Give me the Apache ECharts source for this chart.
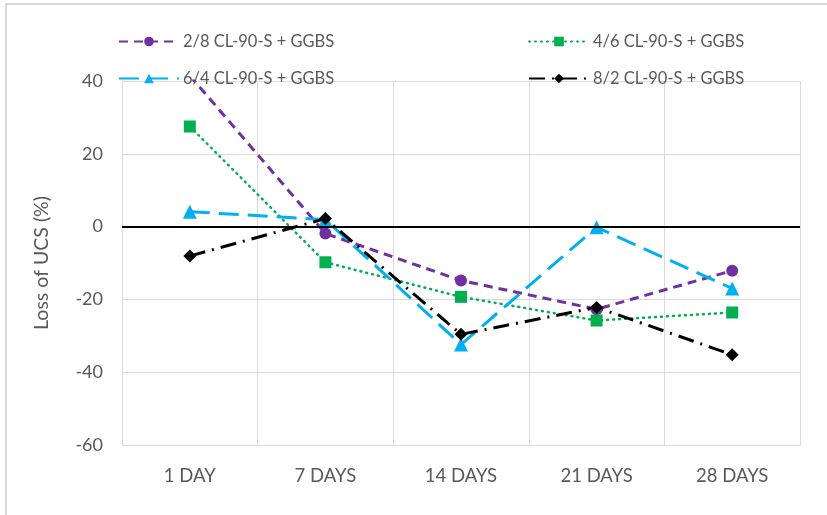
<!DOCTYPE html>
<html>
<head>
<meta charset="utf-8">
<script src="https://cdn.jsdelivr.net/npm/echarts@6/dist/echarts.min.js"></script>
<style>
  html, body { margin: 0; padding: 0; background: #fff; }
  #chart { width: 827px; height: 515px; }
</style>
</head>
<body>
<div id="chart"></div>
<script>
const categories = ['1 DAY', '7 DAYS', '14 DAYS', '21 DAYS', '28 DAYS']
const seriesNames = ['2/8 CL-90-S + GGBS', '4/6 CL-90-S + GGBS', '6/4 CL-90-S + GGBS', '8/2 CL-90-S + GGBS']
const loss28 = [41.5, -1.9, -14.8, -22.7, -12.1]
const loss46 = [27.5, -9.8, -19.3, -25.8, -23.6]
const loss64 = [4.1, 1.9, -32.4, -0.2, -17.0]
const loss82 = [-8.1, 2.2, -29.6, -22.2, -35.2]

const fontFam = "Lato, 'Open Sans', sans-serif"
const grey = '#595959'

const myChart = echarts.init(document.getElementById('chart'))

const legendItem = (name, left, top) => ({
  data: [name],
  left: left,
  top: top,
  itemWidth: 60,
  itemHeight: 12,
  itemGap: 0,
  selectedMode: false,
  textStyle: { color: grey, fontSize: 16.5, fontFamily: fontFam, padding: [0, 0, 0, -1] }
})

const option = {
  animation: false,
  graphic: [
    {
      type: 'rect',
      shape: { x: 6, y: 4, width: 900, height: 600 },
      style: { fill: 'none', stroke: '#d9d9d9', lineWidth: 2 },
      silent: true
    }
  ],
  legend: [
    legendItem(seriesNames[0], 113, 28),
    legendItem(seriesNames[1], 523, 28),
    legendItem(seriesNames[2], 113, 65),
    legendItem(seriesNames[3], 523, 65)
  ],
  grid: { left: 122, right: 27, top: 81, bottom: 70 },
  xAxis: {
    type: 'category',
    data: categories,
    axisLine: { show: false },
    axisTick: { show: false },
    splitLine: { show: true, lineStyle: { color: '#d9d9d9', width: 1 } },
    axisLabel: { color: grey, fontSize: 18.5, fontFamily: fontFam, margin: 22 }
  },
  yAxis: {
    type: 'value',
    min: -60,
    max: 40,
    interval: 20,
    name: 'Loss of UCS (%)',
    nameLocation: 'middle',
    nameGap: 70,
    nameTextStyle: { color: grey, fontSize: 19.5, fontFamily: fontFam },
    axisLine: { show: true, lineStyle: { color: '#d9d9d9' } },
    axisTick: { show: false },
    splitLine: { lineStyle: { color: '#d9d9d9', width: 1 } },
    axisLabel: { color: grey, fontSize: 18, fontFamily: fontFam, margin: 19 }
  },
  series: [
    {
      name: seriesNames[0],
      type: 'line',
      data: loss28,
      symbol: 'circle',
      symbolSize: 12,
      itemStyle: { color: '#7030a0' },
      lineStyle: { color: '#7030a0', width: 3, type: [9, 6] },
      markLine: {
        silent: true,
        symbol: 'none',
        label: { show: false },
        lineStyle: { color: '#000', width: 2, type: 'solid' },
        data: [{ yAxis: 0 }]
      },
      z: 3
    },
    {
      name: seriesNames[1],
      type: 'line',
      data: loss46,
      symbol: 'rect',
      symbolSize: 12,
      itemStyle: { color: '#00b050' },
      lineStyle: { color: '#00b050', width: 2.5, type: [1, 5], cap: 'round' },
      z: 3
    },
    {
      name: seriesNames[2],
      type: 'line',
      data: loss64,
      symbol: 'triangle',
      symbolSize: 14,
      itemStyle: { color: '#00b0f0' },
      lineStyle: { color: '#00b0f0', width: 3, type: [20, 9] },
      z: 3
    },
    {
      name: seriesNames[3],
      type: 'line',
      data: loss82,
      symbol: 'diamond',
      symbolSize: 13,
      itemStyle: { color: '#000' },
      lineStyle: { color: '#000', width: 3, type: [16, 7, 2, 7] },
      z: 3
    }
  ]
}

myChart.setOption(option)
</script>
</body>
</html>
